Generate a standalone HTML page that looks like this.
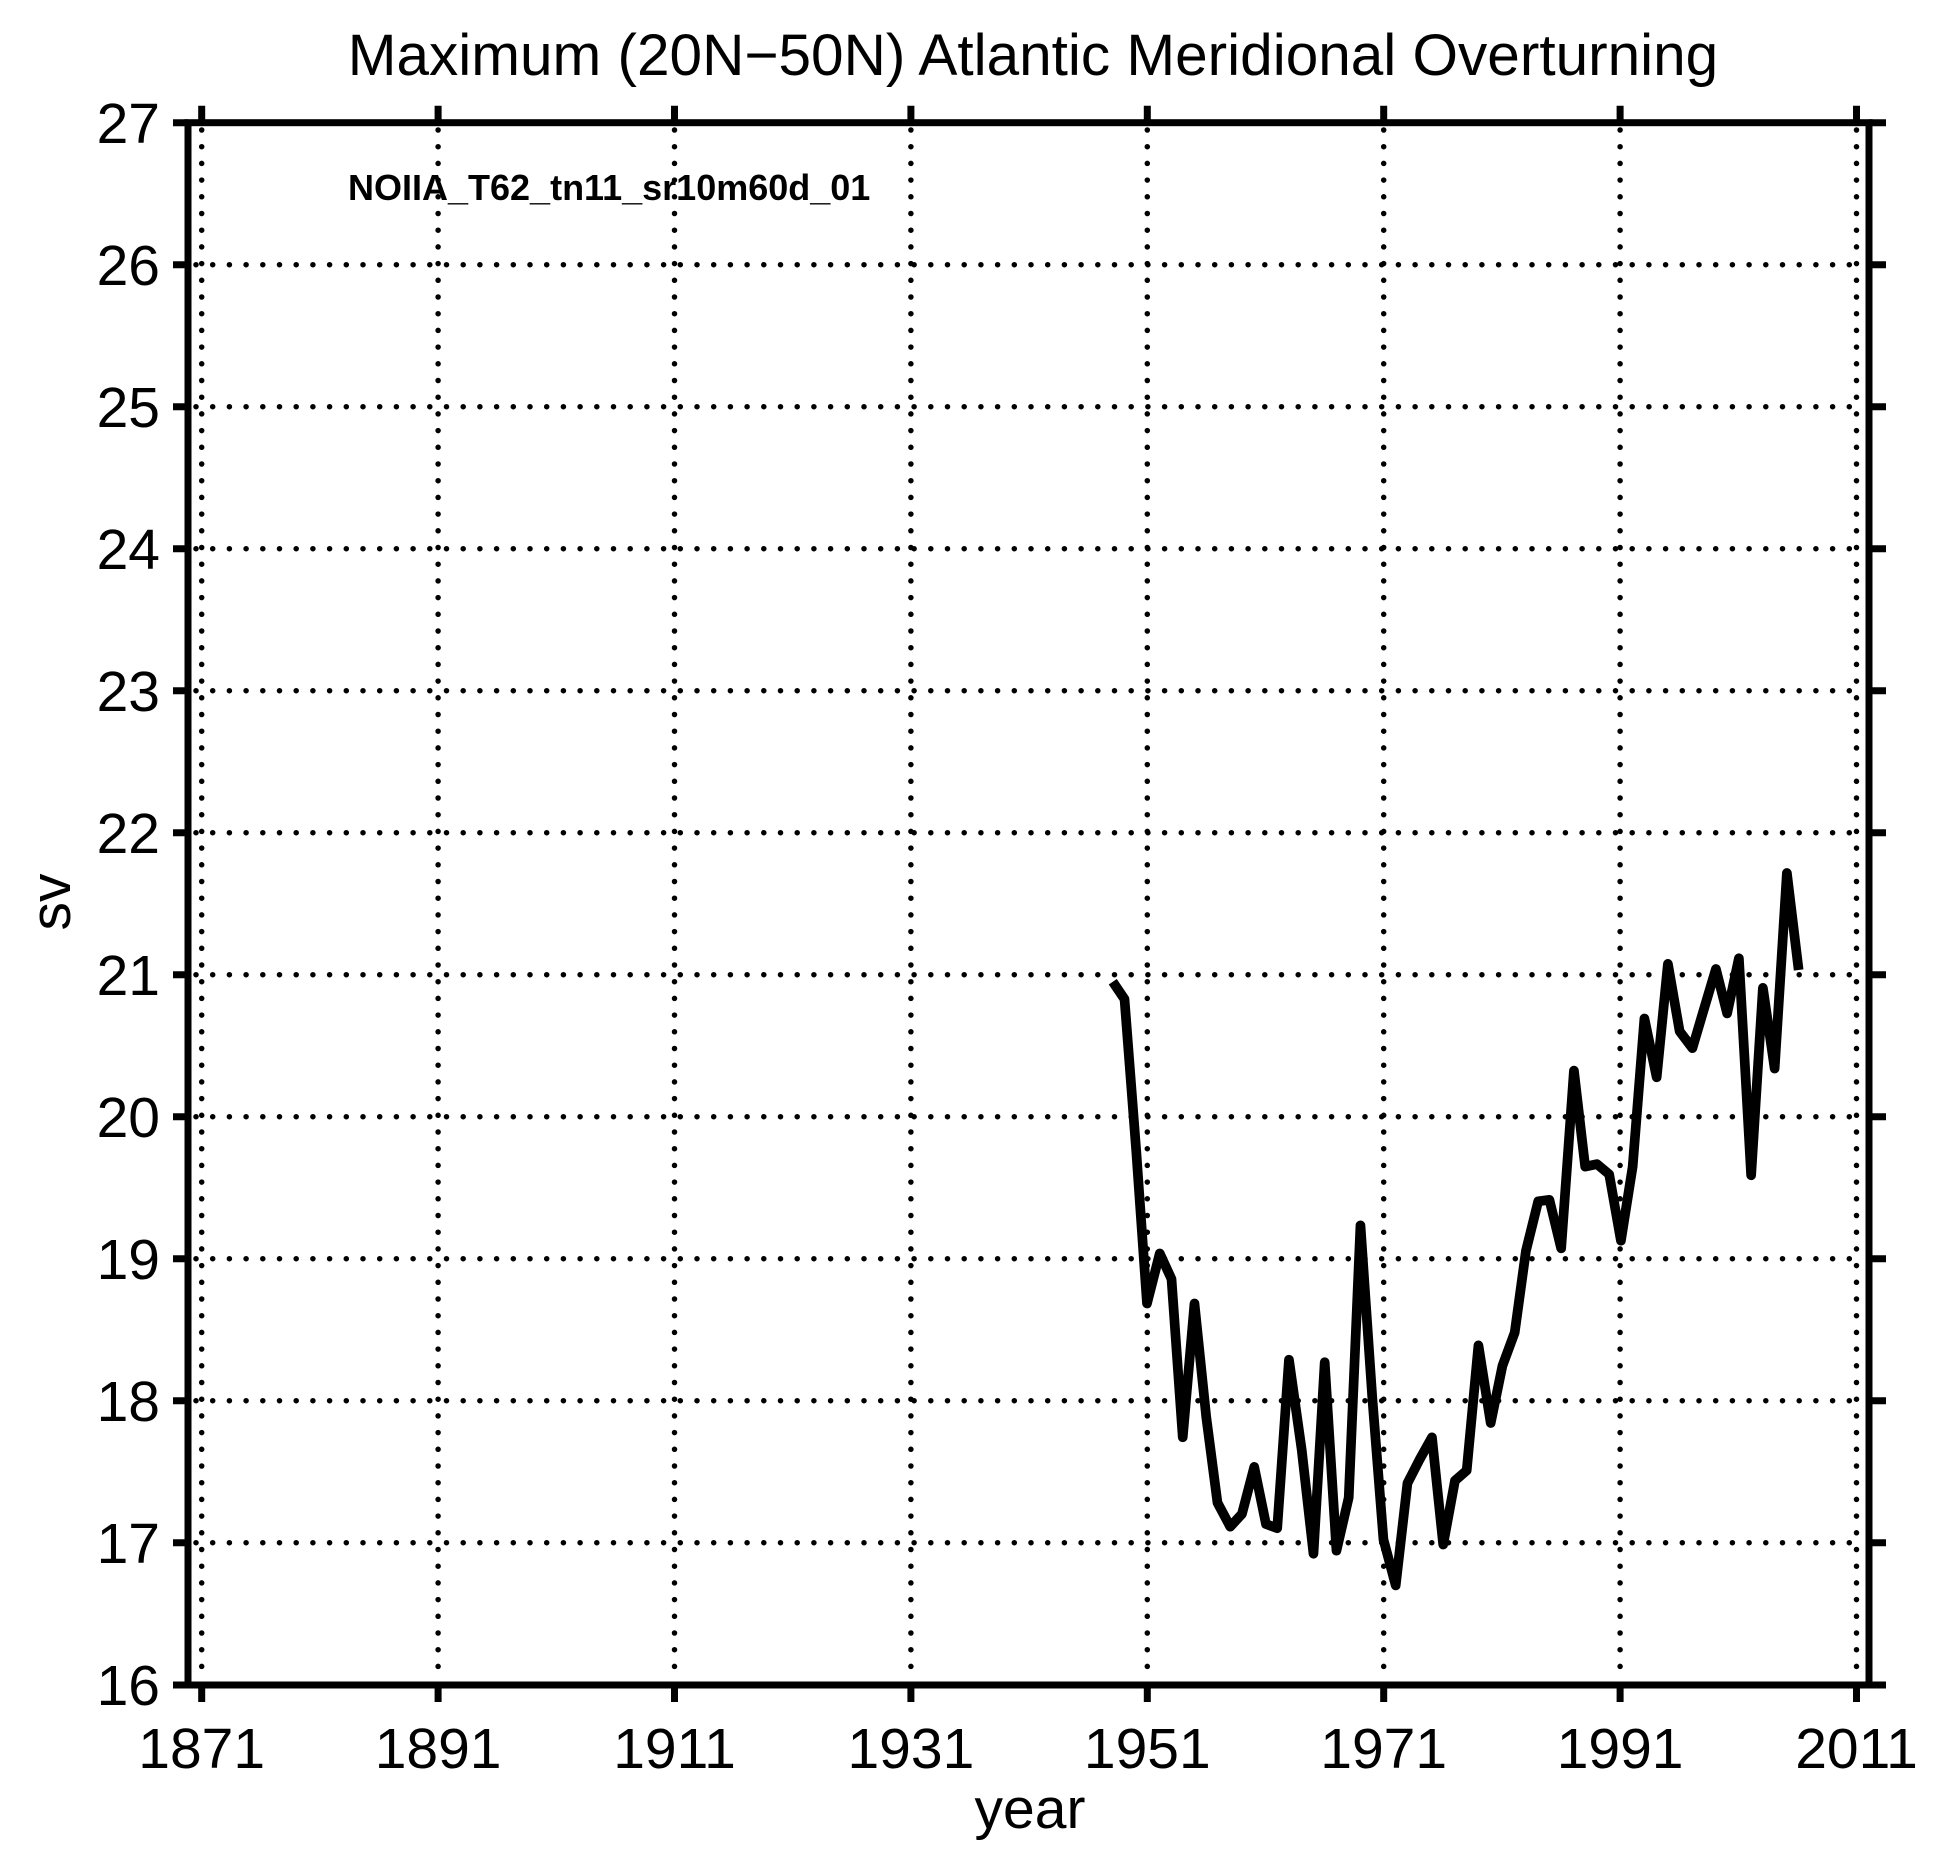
<!DOCTYPE html>
<html><head><meta charset="utf-8"><style>html,body{margin:0;padding:0;background:#fff;}svg{display:block;}</style></head>
<body>
<svg width="1938" height="1854" viewBox="0 0 1938 1854" xmlns="http://www.w3.org/2000/svg" font-family="Liberation Sans, Arial, sans-serif">
<rect width="1938" height="1854" fill="#fff"/>
<g stroke="#000" stroke-width="5.5" stroke-linecap="round" stroke-dasharray="0 16.7" fill="none">
<path d="M201.7 130V1680M438.1 130V1680M674.5 130V1680M910.9 130V1680M1147.3 130V1680M1383.7 130V1680M1620.1 130V1680M1856.5 130V1680"/>
<path d="M196 264.7H1862M196 406.7H1862M196 548.7H1862M196 690.7H1862M196 832.7H1862M196 974.7H1862M196 1116.7H1862M196 1258.7H1862M196 1400.7H1862M196 1542.7H1862"/>
</g>
<g stroke="#000" stroke-width="7" fill="none">
<rect x="188" y="122.7" width="1681" height="1562.3"/>
<path d="M201.7 122.7v-17M438.1 122.7v-17M674.5 122.7v-17M910.9 122.7v-17M1147.3 122.7v-17M1383.7 122.7v-17M1620.1 122.7v-17M1856.5 122.7v-17"/>
<path d="M201.7 1685v17M438.1 1685v17M674.5 1685v17M910.9 1685v17M1147.3 1685v17M1383.7 1685v17M1620.1 1685v17M1856.5 1685v17"/>
<path d="M188 122.7h-15M188 264.7h-15M188 406.7h-15M188 548.7h-15M188 690.7h-15M188 832.7h-15M188 974.7h-15M188 1116.7h-15M188 1258.7h-15M188 1400.7h-15M188 1542.7h-15M188 1685h-15"/>
<path d="M1869 122.7h17M1869 264.7h17M1869 406.7h17M1869 548.7h17M1869 690.7h17M1869 832.7h17M1869 974.7h17M1869 1116.7h17M1869 1258.7h17M1869 1400.7h17M1869 1542.7h17M1869 1685h17"/>
</g>
<g transform="translate(1100,850) scale(0.5107)">
<polyline fill="none" stroke="#000" stroke-width="19" stroke-linejoin="round" points="25,258 48,292 71,590 92,888 117,790 140,840 162,1150 185,888 208,1110 230,1278 255,1325 278,1300 302,1208 325,1320 347,1328 370,998 395,1175 418,1378 440,1003 463,1372 487,1268 510,735 533,1070 555,1350 579,1440 602,1240 625,1195 650,1150 672,1360 695,1235 718,1215 741,970 765,1122 788,1010 812,945 834,785 858,688 880,685 903,780 928,432 950,620 973,615 997,635 1020,765 1043,620 1066,330 1090,445 1112,223 1135,355 1160,388 1183,310 1206,233 1228,320 1251,212 1275,637 1298,270 1321,428 1345,45 1368,235"/>
</g>
<text x="1033" y="75" font-size="58.5" text-anchor="middle">Maximum (20N−50N) Atlantic Meridional Overturning</text>
<text x="348" y="200" font-size="36" font-weight="bold">NOIIA_T62_tn11_sr10m60d_01</text>
<g font-size="57" text-anchor="end">
<text x="160" y="143">27</text><text x="160" y="285">26</text><text x="160" y="427">25</text><text x="160" y="569">24</text><text x="160" y="711">23</text><text x="160" y="853">22</text><text x="160" y="995">21</text><text x="160" y="1137">20</text><text x="160" y="1279">19</text><text x="160" y="1421">18</text><text x="160" y="1563">17</text><text x="160" y="1705">16</text>
</g>
<g font-size="57" text-anchor="middle">
<text x="201.7" y="1768">1871</text><text x="438.1" y="1768">1891</text><text x="674.5" y="1768">1911</text><text x="910.9" y="1768">1931</text><text x="1147.3" y="1768">1951</text><text x="1383.7" y="1768">1971</text><text x="1620.1" y="1768">1991</text><text x="1856.5" y="1768">2011</text>
<text x="1030" y="1828">year</text>
<text transform="translate(70,902) rotate(-90)">sv</text>
</g>
</svg>
</body></html>
